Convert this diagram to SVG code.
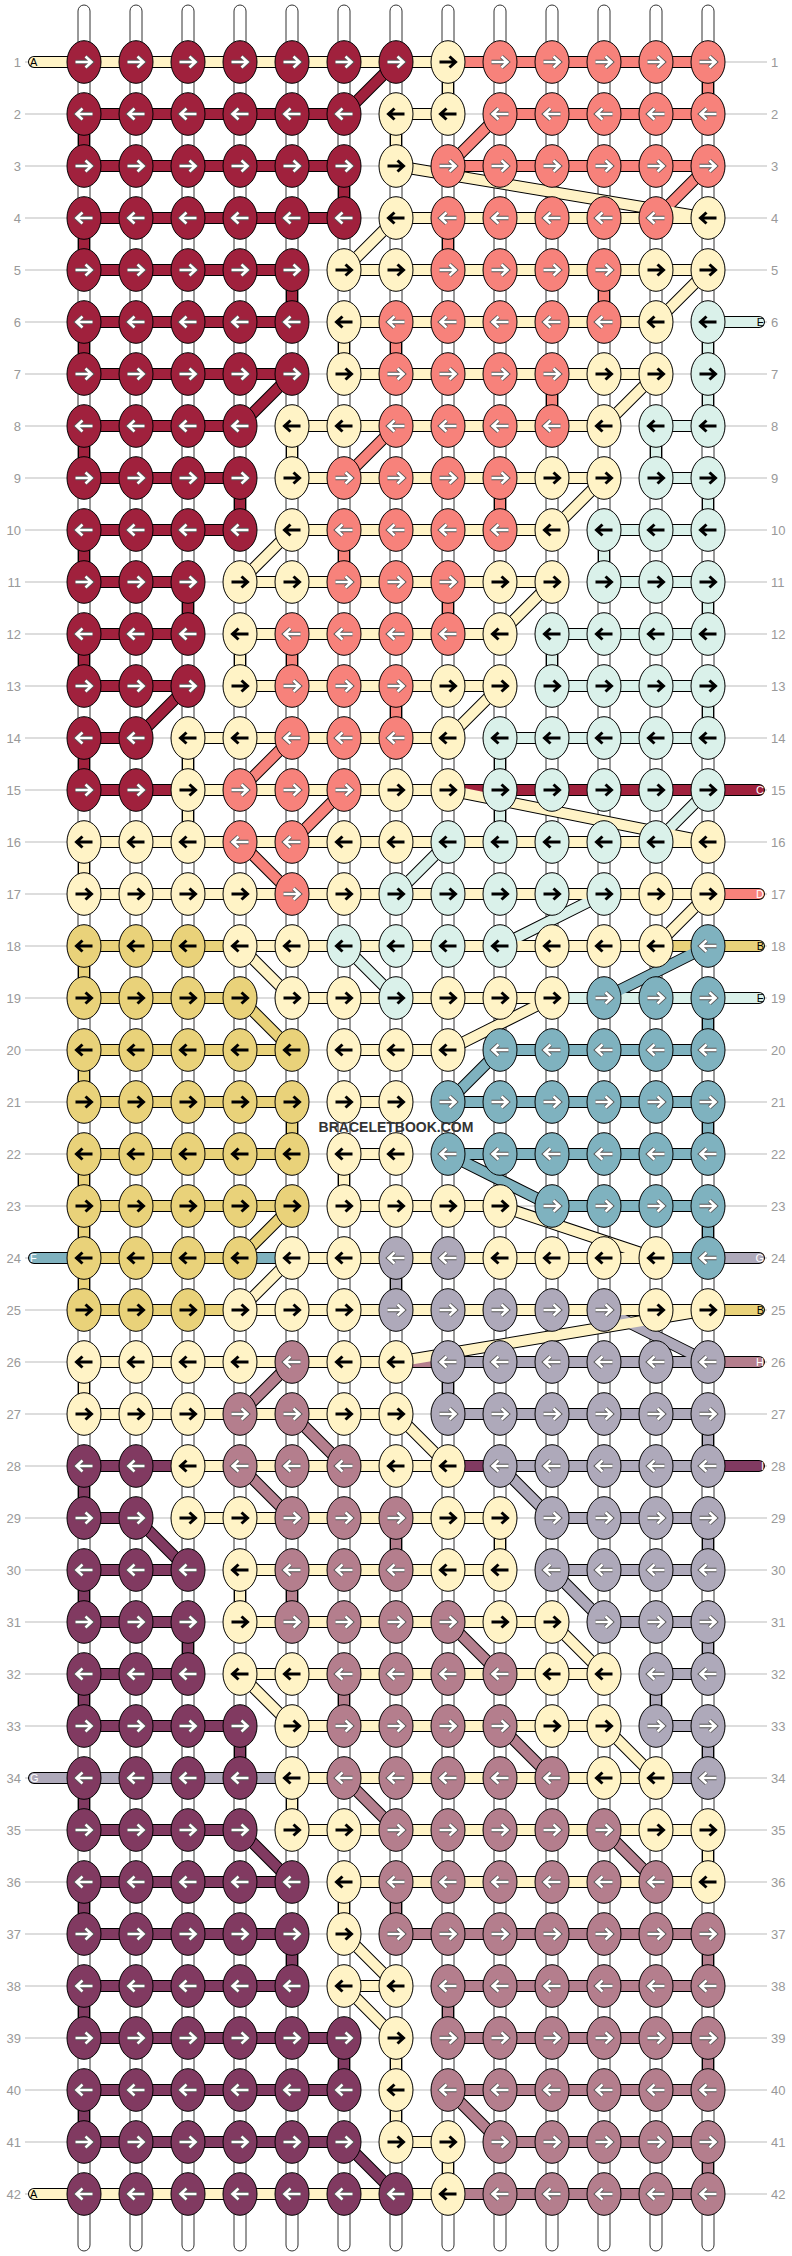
<svg xmlns="http://www.w3.org/2000/svg" width="792" height="2256" viewBox="0 0 792 2256">
<style>
text{font-family:"Liberation Sans",Arial,sans-serif}
.num{font-size:13px;fill:#999}
.lab{font-size:11px}
.o{fill:none;stroke:#000;stroke-width:12;stroke-linecap:round}
.f{fill:none;stroke-width:10;stroke-linecap:round}
.awo{fill:none;stroke:#555;stroke-width:4.4}
.aw{fill:none;stroke:#fff;stroke-width:2.6}
.ab{fill:none;stroke:#000;stroke-width:3}
.warp{fill:#fff;stroke:#333;stroke-width:1}
</style>
<defs>
<ellipse id="e" rx="17" ry="21.3" stroke="#000" stroke-width="1"/>
<path id="ar" d="M-8.5 0H6.5M1.5-5.5L7.5 0L1.5 5.5"/>
<path id="al" d="M8.5 0H-6.5M-1.5-5.5L-7.5 0L-1.5 5.5"/>
<g id="wr"><use href="#ar" class="awo"/><use href="#ar" class="aw"/></g>
<g id="wl"><use href="#al" class="awo"/><use href="#al" class="aw"/></g>
<use id="br" href="#ar" class="ab"/>
<use id="bl" href="#al" class="ab"/>
<g id="Rr"><use href="#e" fill="#A0213D"/><use href="#wr"/></g>
<g id="Rl"><use href="#e" fill="#A0213D"/><use href="#wl"/></g>
<g id="Sr"><use href="#e" fill="#F7827B"/><use href="#wr"/></g>
<g id="Sl"><use href="#e" fill="#F7827B"/><use href="#wl"/></g>
<g id="Tr"><use href="#e" fill="#7FB2BF"/><use href="#wr"/></g>
<g id="Tl"><use href="#e" fill="#7FB2BF"/><use href="#wl"/></g>
<g id="Gr"><use href="#e" fill="#AEA9BA"/><use href="#wr"/></g>
<g id="Gl"><use href="#e" fill="#AEA9BA"/><use href="#wl"/></g>
<g id="Pr"><use href="#e" fill="#B47E8D"/><use href="#wr"/></g>
<g id="Pl"><use href="#e" fill="#B47E8D"/><use href="#wl"/></g>
<g id="Ur"><use href="#e" fill="#813A61"/><use href="#wr"/></g>
<g id="Ul"><use href="#e" fill="#813A61"/><use href="#wl"/></g>
<g id="Cr"><use href="#e" fill="#FFF3C6"/><use href="#br"/></g>
<g id="Cl"><use href="#e" fill="#FFF3C6"/><use href="#bl"/></g>
<g id="Mr"><use href="#e" fill="#DAF1EA"/><use href="#br"/></g>
<g id="Ml"><use href="#e" fill="#DAF1EA"/><use href="#bl"/></g>
<g id="Yr"><use href="#e" fill="#E9D27A"/><use href="#br"/></g>
<g id="Yl"><use href="#e" fill="#E9D27A"/><use href="#bl"/></g>
<path id="pR" d="M84 114H344M84 166H344M84 218H344M84 270H292M84 322H292M84 374H292M84 426H240M84 478H240M84 530H240M84 582H188M84 634H188M84 686H188M84 738H136M84 790H188M448 790H759M84 114V166M344 166V218M84 218V270M292 270V322M84 322V374M84 426V478M240 478V530M84 530V582M188 582V634M84 634V686M84 738V790M396 62L344 114M292 374L240 426M188 686L136 738"/>
<path id="pS" d="M448 62H708M500 114H708M448 166H708M708 894H759M708 62V114M448 218V270M604 270V322M396 322V374M552 374V426M500 478V530M344 530V582M448 582V634M292 634V686M396 686V738M500 114L448 166M708 166L656 218M396 426L344 478M292 738L240 790M344 790L292 842M240 842L292 894"/>
<path id="pM" d="M708 322H759M656 426H708M656 478H708M604 530H708M604 582H708M552 634H708M552 686H708M500 738H708M552 998H759M708 322V426M656 426V478M708 478V530M604 530V582M708 582V634M552 634V686M708 686V738M500 738V842M708 790L656 842M448 842L396 894M604 894L500 946M344 946L396 998"/>
<path id="pY" d="M84 946H240M656 946H759M84 998H240M84 1050H292M84 1102H292M84 1154H292M84 1206H292M84 1258H240M84 1310H240M708 1310H759M84 946V998M84 1050V1102M292 1102V1154M84 1154V1310M240 998L292 1050M292 1206L240 1258"/>
<path id="pT" d="M500 1050H708M448 1102H708M448 1154H708M552 1206H708M34 1258H84M240 1258H292M656 1258H708M708 998V1050M708 1102V1154M708 1206V1258M708 946L604 998M500 1050L448 1102M448 1154L552 1206"/>
<path id="pG" d="M708 1258H759M448 1362H708M448 1414H708M500 1466H708M552 1518H708M552 1570H708M604 1622H708M656 1674H708M656 1726H708M34 1778H292M656 1778H708M396 1258V1310M448 1362V1414M708 1414V1466M708 1518V1570M708 1622V1674M656 1674V1726M708 1726V1778M604 1310L708 1362M500 1466L552 1518M552 1570L604 1622"/>
<path id="pP" d="M396 1362H448M708 1362H759M396 1934H708M448 1986H708M448 2038H708M448 2090H708M500 2142H708M448 2194H708M396 1518V1570M292 1570V1622M344 1674V1726M396 1882V1934M708 1934V1986M448 1986V2038M708 2038V2090M708 2142V2194M292 1362L240 1414M292 1414L344 1466M240 1466L292 1518M448 1622L500 1674M500 1726L552 1778M344 1778L396 1830M604 1830L656 1882M448 2090L500 2142"/>
<path id="pU" d="M84 1466H188M448 1466H500M708 1466H759M84 1518H136M84 1570H188M84 1622H188M84 1674H188M84 1726H240M84 1830H240M84 1882H292M84 1934H292M84 1986H292M84 2038H344M84 2090H344M84 2142H344M84 1466V1518M84 1570V1622M188 1622V1674M84 1674V1726M240 1726V1778M84 1778V1830M84 1882V1934M292 1934V1986M84 1986V2038M344 2038V2090M84 2090V2142M136 1518L188 1570M240 1830L292 1882M344 2142L396 2194"/>
<path id="pC" d="M34 62H448M396 114H448M396 218H708M344 270H708M344 322H656M344 374H656M292 426H604M292 478H604M292 530H552M240 582H552M240 634H500M240 686H500M188 738H448M188 790H448M84 842H708M84 894H708M240 946H656M292 998H552M344 1050H448M344 1102H396M344 1154H396M344 1206H500M292 1258H656M240 1310H708M84 1362H396M84 1414H396M188 1466H448M188 1518H500M240 1570H500M240 1622H552M240 1674H604M292 1726H604M292 1778H656M292 1830H708M344 1882H708M344 1986H396M396 2142H448M34 2194H448M448 62V114M396 114V166M344 322V374M292 426V478M240 634V686M188 738V842M84 842V894M344 1154V1206M84 1362V1414M500 1518V1570M240 1570V1622M292 1778V1830M708 1830V1882M344 1882V1934M396 2038V2142M448 2142V2194M396 166L708 218M396 218L344 270M708 270L656 322M656 374L604 426M604 478L552 530M292 530L240 582M552 582L500 634M500 686L448 738M448 790L708 842M708 894L656 946M240 946L292 998M552 998L448 1050M500 1206L656 1258M292 1258L240 1310M708 1310L396 1362M396 1414L448 1466M552 1622L604 1674M240 1674L292 1726M604 1726L656 1778M344 1934L396 1986M344 1986L396 2038"/>
</defs>
<rect width="792" height="2256" fill="#fff"/>
<g id="warps">
<rect class="warp" x="78" y="5" width="12" height="2246" rx="6"/>
<rect class="warp" x="130" y="5" width="12" height="2246" rx="6"/>
<rect class="warp" x="182" y="5" width="12" height="2246" rx="6"/>
<rect class="warp" x="234" y="5" width="12" height="2246" rx="6"/>
<rect class="warp" x="286" y="5" width="12" height="2246" rx="6"/>
<rect class="warp" x="338" y="5" width="12" height="2246" rx="6"/>
<rect class="warp" x="390" y="5" width="12" height="2246" rx="6"/>
<rect class="warp" x="442" y="5" width="12" height="2246" rx="6"/>
<rect class="warp" x="494" y="5" width="12" height="2246" rx="6"/>
<rect class="warp" x="546" y="5" width="12" height="2246" rx="6"/>
<rect class="warp" x="598" y="5" width="12" height="2246" rx="6"/>
<rect class="warp" x="650" y="5" width="12" height="2246" rx="6"/>
<rect class="warp" x="702" y="5" width="12" height="2246" rx="6"/>
</g>
<path id="guides" fill="none" stroke="#bbb" stroke-width="1" d="M25 62H767M25 114H767M25 166H767M25 218H767M25 270H767M25 322H767M25 374H767M25 426H767M25 478H767M25 530H767M25 582H767M25 634H767M25 686H767M25 738H767M25 790H767M25 842H767M25 894H767M25 946H767M25 998H767M25 1050H767M25 1102H767M25 1154H767M25 1206H767M25 1258H767M25 1310H767M25 1362H767M25 1414H767M25 1466H767M25 1518H767M25 1570H767M25 1622H767M25 1674H767M25 1726H767M25 1778H767M25 1830H767M25 1882H767M25 1934H767M25 1986H767M25 2038H767M25 2090H767M25 2142H767M25 2194H767"/>
<g id="connectors">
<use href="#pR" class="o"/><use href="#pS" class="o"/><use href="#pM" class="o"/><use href="#pY" class="o"/><use href="#pT" class="o"/><use href="#pG" class="o"/><use href="#pP" class="o"/><use href="#pU" class="o"/><use href="#pC" class="o"/>
<use href="#pR" class="f" stroke="#A0213D"/><use href="#pS" class="f" stroke="#F7827B"/><use href="#pM" class="f" stroke="#DAF1EA"/><use href="#pY" class="f" stroke="#E9D27A"/><use href="#pT" class="f" stroke="#7FB2BF"/><use href="#pG" class="f" stroke="#AEA9BA"/><use href="#pP" class="f" stroke="#B47E8D"/><use href="#pU" class="f" stroke="#813A61"/><use href="#pC" class="f" stroke="#FFF3C6"/>
</g>
<g id="knots">
<g id="row1" transform="translate(0 62)"><use id="k1-1" href="#Rr" x="84"/><use id="k1-2" href="#Rr" x="136"/><use id="k1-3" href="#Rr" x="188"/><use id="k1-4" href="#Rr" x="240"/><use id="k1-5" href="#Rr" x="292"/><use id="k1-6" href="#Rr" x="344"/><use id="k1-7" href="#Rr" x="396"/><use id="k1-8" href="#Cr" x="448"/><use id="k1-9" href="#Sr" x="500"/><use id="k1-10" href="#Sr" x="552"/><use id="k1-11" href="#Sr" x="604"/><use id="k1-12" href="#Sr" x="656"/><use id="k1-13" href="#Sr" x="708"/></g>
<g id="row2" transform="translate(0 114)"><use id="k2-1" href="#Rl" x="84"/><use id="k2-2" href="#Rl" x="136"/><use id="k2-3" href="#Rl" x="188"/><use id="k2-4" href="#Rl" x="240"/><use id="k2-5" href="#Rl" x="292"/><use id="k2-6" href="#Rl" x="344"/><use id="k2-7" href="#Cl" x="396"/><use id="k2-8" href="#Cl" x="448"/><use id="k2-9" href="#Sl" x="500"/><use id="k2-10" href="#Sl" x="552"/><use id="k2-11" href="#Sl" x="604"/><use id="k2-12" href="#Sl" x="656"/><use id="k2-13" href="#Sl" x="708"/></g>
<g id="row3" transform="translate(0 166)"><use id="k3-1" href="#Rr" x="84"/><use id="k3-2" href="#Rr" x="136"/><use id="k3-3" href="#Rr" x="188"/><use id="k3-4" href="#Rr" x="240"/><use id="k3-5" href="#Rr" x="292"/><use id="k3-6" href="#Rr" x="344"/><use id="k3-7" href="#Cr" x="396"/><use id="k3-8" href="#Sr" x="448"/><use id="k3-9" href="#Sr" x="500"/><use id="k3-10" href="#Sr" x="552"/><use id="k3-11" href="#Sr" x="604"/><use id="k3-12" href="#Sr" x="656"/><use id="k3-13" href="#Sr" x="708"/></g>
<g id="row4" transform="translate(0 218)"><use id="k4-1" href="#Rl" x="84"/><use id="k4-2" href="#Rl" x="136"/><use id="k4-3" href="#Rl" x="188"/><use id="k4-4" href="#Rl" x="240"/><use id="k4-5" href="#Rl" x="292"/><use id="k4-6" href="#Rl" x="344"/><use id="k4-7" href="#Cl" x="396"/><use id="k4-8" href="#Sl" x="448"/><use id="k4-9" href="#Sl" x="500"/><use id="k4-10" href="#Sl" x="552"/><use id="k4-11" href="#Sl" x="604"/><use id="k4-12" href="#Sl" x="656"/><use id="k4-13" href="#Cl" x="708"/></g>
<g id="row5" transform="translate(0 270)"><use id="k5-1" href="#Rr" x="84"/><use id="k5-2" href="#Rr" x="136"/><use id="k5-3" href="#Rr" x="188"/><use id="k5-4" href="#Rr" x="240"/><use id="k5-5" href="#Rr" x="292"/><use id="k5-6" href="#Cr" x="344"/><use id="k5-7" href="#Cr" x="396"/><use id="k5-8" href="#Sr" x="448"/><use id="k5-9" href="#Sr" x="500"/><use id="k5-10" href="#Sr" x="552"/><use id="k5-11" href="#Sr" x="604"/><use id="k5-12" href="#Cr" x="656"/><use id="k5-13" href="#Cr" x="708"/></g>
<g id="row6" transform="translate(0 322)"><use id="k6-1" href="#Rl" x="84"/><use id="k6-2" href="#Rl" x="136"/><use id="k6-3" href="#Rl" x="188"/><use id="k6-4" href="#Rl" x="240"/><use id="k6-5" href="#Rl" x="292"/><use id="k6-6" href="#Cl" x="344"/><use id="k6-7" href="#Sl" x="396"/><use id="k6-8" href="#Sl" x="448"/><use id="k6-9" href="#Sl" x="500"/><use id="k6-10" href="#Sl" x="552"/><use id="k6-11" href="#Sl" x="604"/><use id="k6-12" href="#Cl" x="656"/><use id="k6-13" href="#Ml" x="708"/></g>
<g id="row7" transform="translate(0 374)"><use id="k7-1" href="#Rr" x="84"/><use id="k7-2" href="#Rr" x="136"/><use id="k7-3" href="#Rr" x="188"/><use id="k7-4" href="#Rr" x="240"/><use id="k7-5" href="#Rr" x="292"/><use id="k7-6" href="#Cr" x="344"/><use id="k7-7" href="#Sr" x="396"/><use id="k7-8" href="#Sr" x="448"/><use id="k7-9" href="#Sr" x="500"/><use id="k7-10" href="#Sr" x="552"/><use id="k7-11" href="#Cr" x="604"/><use id="k7-12" href="#Cr" x="656"/><use id="k7-13" href="#Mr" x="708"/></g>
<g id="row8" transform="translate(0 426)"><use id="k8-1" href="#Rl" x="84"/><use id="k8-2" href="#Rl" x="136"/><use id="k8-3" href="#Rl" x="188"/><use id="k8-4" href="#Rl" x="240"/><use id="k8-5" href="#Cl" x="292"/><use id="k8-6" href="#Cl" x="344"/><use id="k8-7" href="#Sl" x="396"/><use id="k8-8" href="#Sl" x="448"/><use id="k8-9" href="#Sl" x="500"/><use id="k8-10" href="#Sl" x="552"/><use id="k8-11" href="#Cl" x="604"/><use id="k8-12" href="#Ml" x="656"/><use id="k8-13" href="#Ml" x="708"/></g>
<g id="row9" transform="translate(0 478)"><use id="k9-1" href="#Rr" x="84"/><use id="k9-2" href="#Rr" x="136"/><use id="k9-3" href="#Rr" x="188"/><use id="k9-4" href="#Rr" x="240"/><use id="k9-5" href="#Cr" x="292"/><use id="k9-6" href="#Sr" x="344"/><use id="k9-7" href="#Sr" x="396"/><use id="k9-8" href="#Sr" x="448"/><use id="k9-9" href="#Sr" x="500"/><use id="k9-10" href="#Cr" x="552"/><use id="k9-11" href="#Cr" x="604"/><use id="k9-12" href="#Mr" x="656"/><use id="k9-13" href="#Mr" x="708"/></g>
<g id="row10" transform="translate(0 530)"><use id="k10-1" href="#Rl" x="84"/><use id="k10-2" href="#Rl" x="136"/><use id="k10-3" href="#Rl" x="188"/><use id="k10-4" href="#Rl" x="240"/><use id="k10-5" href="#Cl" x="292"/><use id="k10-6" href="#Sl" x="344"/><use id="k10-7" href="#Sl" x="396"/><use id="k10-8" href="#Sl" x="448"/><use id="k10-9" href="#Sl" x="500"/><use id="k10-10" href="#Cl" x="552"/><use id="k10-11" href="#Ml" x="604"/><use id="k10-12" href="#Ml" x="656"/><use id="k10-13" href="#Ml" x="708"/></g>
<g id="row11" transform="translate(0 582)"><use id="k11-1" href="#Rr" x="84"/><use id="k11-2" href="#Rr" x="136"/><use id="k11-3" href="#Rr" x="188"/><use id="k11-4" href="#Cr" x="240"/><use id="k11-5" href="#Cr" x="292"/><use id="k11-6" href="#Sr" x="344"/><use id="k11-7" href="#Sr" x="396"/><use id="k11-8" href="#Sr" x="448"/><use id="k11-9" href="#Cr" x="500"/><use id="k11-10" href="#Cr" x="552"/><use id="k11-11" href="#Mr" x="604"/><use id="k11-12" href="#Mr" x="656"/><use id="k11-13" href="#Mr" x="708"/></g>
<g id="row12" transform="translate(0 634)"><use id="k12-1" href="#Rl" x="84"/><use id="k12-2" href="#Rl" x="136"/><use id="k12-3" href="#Rl" x="188"/><use id="k12-4" href="#Cl" x="240"/><use id="k12-5" href="#Sl" x="292"/><use id="k12-6" href="#Sl" x="344"/><use id="k12-7" href="#Sl" x="396"/><use id="k12-8" href="#Sl" x="448"/><use id="k12-9" href="#Cl" x="500"/><use id="k12-10" href="#Ml" x="552"/><use id="k12-11" href="#Ml" x="604"/><use id="k12-12" href="#Ml" x="656"/><use id="k12-13" href="#Ml" x="708"/></g>
<g id="row13" transform="translate(0 686)"><use id="k13-1" href="#Rr" x="84"/><use id="k13-2" href="#Rr" x="136"/><use id="k13-3" href="#Rr" x="188"/><use id="k13-4" href="#Cr" x="240"/><use id="k13-5" href="#Sr" x="292"/><use id="k13-6" href="#Sr" x="344"/><use id="k13-7" href="#Sr" x="396"/><use id="k13-8" href="#Cr" x="448"/><use id="k13-9" href="#Cr" x="500"/><use id="k13-10" href="#Mr" x="552"/><use id="k13-11" href="#Mr" x="604"/><use id="k13-12" href="#Mr" x="656"/><use id="k13-13" href="#Mr" x="708"/></g>
<g id="row14" transform="translate(0 738)"><use id="k14-1" href="#Rl" x="84"/><use id="k14-2" href="#Rl" x="136"/><use id="k14-3" href="#Cl" x="188"/><use id="k14-4" href="#Cl" x="240"/><use id="k14-5" href="#Sl" x="292"/><use id="k14-6" href="#Sl" x="344"/><use id="k14-7" href="#Sl" x="396"/><use id="k14-8" href="#Cl" x="448"/><use id="k14-9" href="#Ml" x="500"/><use id="k14-10" href="#Ml" x="552"/><use id="k14-11" href="#Ml" x="604"/><use id="k14-12" href="#Ml" x="656"/><use id="k14-13" href="#Ml" x="708"/></g>
<g id="row15" transform="translate(0 790)"><use id="k15-1" href="#Rr" x="84"/><use id="k15-2" href="#Rr" x="136"/><use id="k15-3" href="#Cr" x="188"/><use id="k15-4" href="#Sr" x="240"/><use id="k15-5" href="#Sr" x="292"/><use id="k15-6" href="#Sr" x="344"/><use id="k15-7" href="#Cr" x="396"/><use id="k15-8" href="#Cr" x="448"/><use id="k15-9" href="#Mr" x="500"/><use id="k15-10" href="#Mr" x="552"/><use id="k15-11" href="#Mr" x="604"/><use id="k15-12" href="#Mr" x="656"/><use id="k15-13" href="#Mr" x="708"/></g>
<g id="row16" transform="translate(0 842)"><use id="k16-1" href="#Cl" x="84"/><use id="k16-2" href="#Cl" x="136"/><use id="k16-3" href="#Cl" x="188"/><use id="k16-4" href="#Sl" x="240"/><use id="k16-5" href="#Sl" x="292"/><use id="k16-6" href="#Cl" x="344"/><use id="k16-7" href="#Cl" x="396"/><use id="k16-8" href="#Ml" x="448"/><use id="k16-9" href="#Ml" x="500"/><use id="k16-10" href="#Ml" x="552"/><use id="k16-11" href="#Ml" x="604"/><use id="k16-12" href="#Ml" x="656"/><use id="k16-13" href="#Cl" x="708"/></g>
<g id="row17" transform="translate(0 894)"><use id="k17-1" href="#Cr" x="84"/><use id="k17-2" href="#Cr" x="136"/><use id="k17-3" href="#Cr" x="188"/><use id="k17-4" href="#Cr" x="240"/><use id="k17-5" href="#Sr" x="292"/><use id="k17-6" href="#Cr" x="344"/><use id="k17-7" href="#Mr" x="396"/><use id="k17-8" href="#Mr" x="448"/><use id="k17-9" href="#Mr" x="500"/><use id="k17-10" href="#Mr" x="552"/><use id="k17-11" href="#Mr" x="604"/><use id="k17-12" href="#Cr" x="656"/><use id="k17-13" href="#Cr" x="708"/></g>
<g id="row18" transform="translate(0 946)"><use id="k18-1" href="#Yl" x="84"/><use id="k18-2" href="#Yl" x="136"/><use id="k18-3" href="#Yl" x="188"/><use id="k18-4" href="#Cl" x="240"/><use id="k18-5" href="#Cl" x="292"/><use id="k18-6" href="#Ml" x="344"/><use id="k18-7" href="#Ml" x="396"/><use id="k18-8" href="#Ml" x="448"/><use id="k18-9" href="#Ml" x="500"/><use id="k18-10" href="#Cl" x="552"/><use id="k18-11" href="#Cl" x="604"/><use id="k18-12" href="#Cl" x="656"/><use id="k18-13" href="#Tl" x="708"/></g>
<g id="row19" transform="translate(0 998)"><use id="k19-1" href="#Yr" x="84"/><use id="k19-2" href="#Yr" x="136"/><use id="k19-3" href="#Yr" x="188"/><use id="k19-4" href="#Yr" x="240"/><use id="k19-5" href="#Cr" x="292"/><use id="k19-6" href="#Cr" x="344"/><use id="k19-7" href="#Mr" x="396"/><use id="k19-8" href="#Cr" x="448"/><use id="k19-9" href="#Cr" x="500"/><use id="k19-10" href="#Cr" x="552"/><use id="k19-11" href="#Tr" x="604"/><use id="k19-12" href="#Tr" x="656"/><use id="k19-13" href="#Tr" x="708"/></g>
<g id="row20" transform="translate(0 1050)"><use id="k20-1" href="#Yl" x="84"/><use id="k20-2" href="#Yl" x="136"/><use id="k20-3" href="#Yl" x="188"/><use id="k20-4" href="#Yl" x="240"/><use id="k20-5" href="#Yl" x="292"/><use id="k20-6" href="#Cl" x="344"/><use id="k20-7" href="#Cl" x="396"/><use id="k20-8" href="#Cl" x="448"/><use id="k20-9" href="#Tl" x="500"/><use id="k20-10" href="#Tl" x="552"/><use id="k20-11" href="#Tl" x="604"/><use id="k20-12" href="#Tl" x="656"/><use id="k20-13" href="#Tl" x="708"/></g>
<g id="row21" transform="translate(0 1102)"><use id="k21-1" href="#Yr" x="84"/><use id="k21-2" href="#Yr" x="136"/><use id="k21-3" href="#Yr" x="188"/><use id="k21-4" href="#Yr" x="240"/><use id="k21-5" href="#Yr" x="292"/><use id="k21-6" href="#Cr" x="344"/><use id="k21-7" href="#Cr" x="396"/><use id="k21-8" href="#Tr" x="448"/><use id="k21-9" href="#Tr" x="500"/><use id="k21-10" href="#Tr" x="552"/><use id="k21-11" href="#Tr" x="604"/><use id="k21-12" href="#Tr" x="656"/><use id="k21-13" href="#Tr" x="708"/></g>
<g id="row22" transform="translate(0 1154)"><use id="k22-1" href="#Yl" x="84"/><use id="k22-2" href="#Yl" x="136"/><use id="k22-3" href="#Yl" x="188"/><use id="k22-4" href="#Yl" x="240"/><use id="k22-5" href="#Yl" x="292"/><use id="k22-6" href="#Cl" x="344"/><use id="k22-7" href="#Cl" x="396"/><use id="k22-8" href="#Tl" x="448"/><use id="k22-9" href="#Tl" x="500"/><use id="k22-10" href="#Tl" x="552"/><use id="k22-11" href="#Tl" x="604"/><use id="k22-12" href="#Tl" x="656"/><use id="k22-13" href="#Tl" x="708"/></g>
<g id="row23" transform="translate(0 1206)"><use id="k23-1" href="#Yr" x="84"/><use id="k23-2" href="#Yr" x="136"/><use id="k23-3" href="#Yr" x="188"/><use id="k23-4" href="#Yr" x="240"/><use id="k23-5" href="#Yr" x="292"/><use id="k23-6" href="#Cr" x="344"/><use id="k23-7" href="#Cr" x="396"/><use id="k23-8" href="#Cr" x="448"/><use id="k23-9" href="#Cr" x="500"/><use id="k23-10" href="#Tr" x="552"/><use id="k23-11" href="#Tr" x="604"/><use id="k23-12" href="#Tr" x="656"/><use id="k23-13" href="#Tr" x="708"/></g>
<g id="row24" transform="translate(0 1258)"><use id="k24-1" href="#Yl" x="84"/><use id="k24-2" href="#Yl" x="136"/><use id="k24-3" href="#Yl" x="188"/><use id="k24-4" href="#Yl" x="240"/><use id="k24-5" href="#Cl" x="292"/><use id="k24-6" href="#Cl" x="344"/><use id="k24-7" href="#Gl" x="396"/><use id="k24-8" href="#Gl" x="448"/><use id="k24-9" href="#Cl" x="500"/><use id="k24-10" href="#Cl" x="552"/><use id="k24-11" href="#Cl" x="604"/><use id="k24-12" href="#Cl" x="656"/><use id="k24-13" href="#Tl" x="708"/></g>
<g id="row25" transform="translate(0 1310)"><use id="k25-1" href="#Yr" x="84"/><use id="k25-2" href="#Yr" x="136"/><use id="k25-3" href="#Yr" x="188"/><use id="k25-4" href="#Cr" x="240"/><use id="k25-5" href="#Cr" x="292"/><use id="k25-6" href="#Cr" x="344"/><use id="k25-7" href="#Gr" x="396"/><use id="k25-8" href="#Gr" x="448"/><use id="k25-9" href="#Gr" x="500"/><use id="k25-10" href="#Gr" x="552"/><use id="k25-11" href="#Gr" x="604"/><use id="k25-12" href="#Cr" x="656"/><use id="k25-13" href="#Cr" x="708"/></g>
<g id="row26" transform="translate(0 1362)"><use id="k26-1" href="#Cl" x="84"/><use id="k26-2" href="#Cl" x="136"/><use id="k26-3" href="#Cl" x="188"/><use id="k26-4" href="#Cl" x="240"/><use id="k26-5" href="#Pl" x="292"/><use id="k26-6" href="#Cl" x="344"/><use id="k26-7" href="#Cl" x="396"/><use id="k26-8" href="#Gl" x="448"/><use id="k26-9" href="#Gl" x="500"/><use id="k26-10" href="#Gl" x="552"/><use id="k26-11" href="#Gl" x="604"/><use id="k26-12" href="#Gl" x="656"/><use id="k26-13" href="#Gl" x="708"/></g>
<g id="row27" transform="translate(0 1414)"><use id="k27-1" href="#Cr" x="84"/><use id="k27-2" href="#Cr" x="136"/><use id="k27-3" href="#Cr" x="188"/><use id="k27-4" href="#Pr" x="240"/><use id="k27-5" href="#Pr" x="292"/><use id="k27-6" href="#Cr" x="344"/><use id="k27-7" href="#Cr" x="396"/><use id="k27-8" href="#Gr" x="448"/><use id="k27-9" href="#Gr" x="500"/><use id="k27-10" href="#Gr" x="552"/><use id="k27-11" href="#Gr" x="604"/><use id="k27-12" href="#Gr" x="656"/><use id="k27-13" href="#Gr" x="708"/></g>
<g id="row28" transform="translate(0 1466)"><use id="k28-1" href="#Ul" x="84"/><use id="k28-2" href="#Ul" x="136"/><use id="k28-3" href="#Cl" x="188"/><use id="k28-4" href="#Pl" x="240"/><use id="k28-5" href="#Pl" x="292"/><use id="k28-6" href="#Pl" x="344"/><use id="k28-7" href="#Cl" x="396"/><use id="k28-8" href="#Cl" x="448"/><use id="k28-9" href="#Gl" x="500"/><use id="k28-10" href="#Gl" x="552"/><use id="k28-11" href="#Gl" x="604"/><use id="k28-12" href="#Gl" x="656"/><use id="k28-13" href="#Gl" x="708"/></g>
<g id="row29" transform="translate(0 1518)"><use id="k29-1" href="#Ur" x="84"/><use id="k29-2" href="#Ur" x="136"/><use id="k29-3" href="#Cr" x="188"/><use id="k29-4" href="#Cr" x="240"/><use id="k29-5" href="#Pr" x="292"/><use id="k29-6" href="#Pr" x="344"/><use id="k29-7" href="#Pr" x="396"/><use id="k29-8" href="#Cr" x="448"/><use id="k29-9" href="#Cr" x="500"/><use id="k29-10" href="#Gr" x="552"/><use id="k29-11" href="#Gr" x="604"/><use id="k29-12" href="#Gr" x="656"/><use id="k29-13" href="#Gr" x="708"/></g>
<g id="row30" transform="translate(0 1570)"><use id="k30-1" href="#Ul" x="84"/><use id="k30-2" href="#Ul" x="136"/><use id="k30-3" href="#Ul" x="188"/><use id="k30-4" href="#Cl" x="240"/><use id="k30-5" href="#Pl" x="292"/><use id="k30-6" href="#Pl" x="344"/><use id="k30-7" href="#Pl" x="396"/><use id="k30-8" href="#Cl" x="448"/><use id="k30-9" href="#Cl" x="500"/><use id="k30-10" href="#Gl" x="552"/><use id="k30-11" href="#Gl" x="604"/><use id="k30-12" href="#Gl" x="656"/><use id="k30-13" href="#Gl" x="708"/></g>
<g id="row31" transform="translate(0 1622)"><use id="k31-1" href="#Ur" x="84"/><use id="k31-2" href="#Ur" x="136"/><use id="k31-3" href="#Ur" x="188"/><use id="k31-4" href="#Cr" x="240"/><use id="k31-5" href="#Pr" x="292"/><use id="k31-6" href="#Pr" x="344"/><use id="k31-7" href="#Pr" x="396"/><use id="k31-8" href="#Pr" x="448"/><use id="k31-9" href="#Cr" x="500"/><use id="k31-10" href="#Cr" x="552"/><use id="k31-11" href="#Gr" x="604"/><use id="k31-12" href="#Gr" x="656"/><use id="k31-13" href="#Gr" x="708"/></g>
<g id="row32" transform="translate(0 1674)"><use id="k32-1" href="#Ul" x="84"/><use id="k32-2" href="#Ul" x="136"/><use id="k32-3" href="#Ul" x="188"/><use id="k32-4" href="#Cl" x="240"/><use id="k32-5" href="#Cl" x="292"/><use id="k32-6" href="#Pl" x="344"/><use id="k32-7" href="#Pl" x="396"/><use id="k32-8" href="#Pl" x="448"/><use id="k32-9" href="#Pl" x="500"/><use id="k32-10" href="#Cl" x="552"/><use id="k32-11" href="#Cl" x="604"/><use id="k32-12" href="#Gl" x="656"/><use id="k32-13" href="#Gl" x="708"/></g>
<g id="row33" transform="translate(0 1726)"><use id="k33-1" href="#Ur" x="84"/><use id="k33-2" href="#Ur" x="136"/><use id="k33-3" href="#Ur" x="188"/><use id="k33-4" href="#Ur" x="240"/><use id="k33-5" href="#Cr" x="292"/><use id="k33-6" href="#Pr" x="344"/><use id="k33-7" href="#Pr" x="396"/><use id="k33-8" href="#Pr" x="448"/><use id="k33-9" href="#Pr" x="500"/><use id="k33-10" href="#Cr" x="552"/><use id="k33-11" href="#Cr" x="604"/><use id="k33-12" href="#Gr" x="656"/><use id="k33-13" href="#Gr" x="708"/></g>
<g id="row34" transform="translate(0 1778)"><use id="k34-1" href="#Ul" x="84"/><use id="k34-2" href="#Ul" x="136"/><use id="k34-3" href="#Ul" x="188"/><use id="k34-4" href="#Ul" x="240"/><use id="k34-5" href="#Cl" x="292"/><use id="k34-6" href="#Pl" x="344"/><use id="k34-7" href="#Pl" x="396"/><use id="k34-8" href="#Pl" x="448"/><use id="k34-9" href="#Pl" x="500"/><use id="k34-10" href="#Pl" x="552"/><use id="k34-11" href="#Cl" x="604"/><use id="k34-12" href="#Cl" x="656"/><use id="k34-13" href="#Gl" x="708"/></g>
<g id="row35" transform="translate(0 1830)"><use id="k35-1" href="#Ur" x="84"/><use id="k35-2" href="#Ur" x="136"/><use id="k35-3" href="#Ur" x="188"/><use id="k35-4" href="#Ur" x="240"/><use id="k35-5" href="#Cr" x="292"/><use id="k35-6" href="#Cr" x="344"/><use id="k35-7" href="#Pr" x="396"/><use id="k35-8" href="#Pr" x="448"/><use id="k35-9" href="#Pr" x="500"/><use id="k35-10" href="#Pr" x="552"/><use id="k35-11" href="#Pr" x="604"/><use id="k35-12" href="#Cr" x="656"/><use id="k35-13" href="#Cr" x="708"/></g>
<g id="row36" transform="translate(0 1882)"><use id="k36-1" href="#Ul" x="84"/><use id="k36-2" href="#Ul" x="136"/><use id="k36-3" href="#Ul" x="188"/><use id="k36-4" href="#Ul" x="240"/><use id="k36-5" href="#Ul" x="292"/><use id="k36-6" href="#Cl" x="344"/><use id="k36-7" href="#Pl" x="396"/><use id="k36-8" href="#Pl" x="448"/><use id="k36-9" href="#Pl" x="500"/><use id="k36-10" href="#Pl" x="552"/><use id="k36-11" href="#Pl" x="604"/><use id="k36-12" href="#Pl" x="656"/><use id="k36-13" href="#Cl" x="708"/></g>
<g id="row37" transform="translate(0 1934)"><use id="k37-1" href="#Ur" x="84"/><use id="k37-2" href="#Ur" x="136"/><use id="k37-3" href="#Ur" x="188"/><use id="k37-4" href="#Ur" x="240"/><use id="k37-5" href="#Ur" x="292"/><use id="k37-6" href="#Cr" x="344"/><use id="k37-7" href="#Pr" x="396"/><use id="k37-8" href="#Pr" x="448"/><use id="k37-9" href="#Pr" x="500"/><use id="k37-10" href="#Pr" x="552"/><use id="k37-11" href="#Pr" x="604"/><use id="k37-12" href="#Pr" x="656"/><use id="k37-13" href="#Pr" x="708"/></g>
<g id="row38" transform="translate(0 1986)"><use id="k38-1" href="#Ul" x="84"/><use id="k38-2" href="#Ul" x="136"/><use id="k38-3" href="#Ul" x="188"/><use id="k38-4" href="#Ul" x="240"/><use id="k38-5" href="#Ul" x="292"/><use id="k38-6" href="#Cl" x="344"/><use id="k38-7" href="#Cl" x="396"/><use id="k38-8" href="#Pl" x="448"/><use id="k38-9" href="#Pl" x="500"/><use id="k38-10" href="#Pl" x="552"/><use id="k38-11" href="#Pl" x="604"/><use id="k38-12" href="#Pl" x="656"/><use id="k38-13" href="#Pl" x="708"/></g>
<g id="row39" transform="translate(0 2038)"><use id="k39-1" href="#Ur" x="84"/><use id="k39-2" href="#Ur" x="136"/><use id="k39-3" href="#Ur" x="188"/><use id="k39-4" href="#Ur" x="240"/><use id="k39-5" href="#Ur" x="292"/><use id="k39-6" href="#Ur" x="344"/><use id="k39-7" href="#Cr" x="396"/><use id="k39-8" href="#Pr" x="448"/><use id="k39-9" href="#Pr" x="500"/><use id="k39-10" href="#Pr" x="552"/><use id="k39-11" href="#Pr" x="604"/><use id="k39-12" href="#Pr" x="656"/><use id="k39-13" href="#Pr" x="708"/></g>
<g id="row40" transform="translate(0 2090)"><use id="k40-1" href="#Ul" x="84"/><use id="k40-2" href="#Ul" x="136"/><use id="k40-3" href="#Ul" x="188"/><use id="k40-4" href="#Ul" x="240"/><use id="k40-5" href="#Ul" x="292"/><use id="k40-6" href="#Ul" x="344"/><use id="k40-7" href="#Cl" x="396"/><use id="k40-8" href="#Pl" x="448"/><use id="k40-9" href="#Pl" x="500"/><use id="k40-10" href="#Pl" x="552"/><use id="k40-11" href="#Pl" x="604"/><use id="k40-12" href="#Pl" x="656"/><use id="k40-13" href="#Pl" x="708"/></g>
<g id="row41" transform="translate(0 2142)"><use id="k41-1" href="#Ur" x="84"/><use id="k41-2" href="#Ur" x="136"/><use id="k41-3" href="#Ur" x="188"/><use id="k41-4" href="#Ur" x="240"/><use id="k41-5" href="#Ur" x="292"/><use id="k41-6" href="#Ur" x="344"/><use id="k41-7" href="#Cr" x="396"/><use id="k41-8" href="#Cr" x="448"/><use id="k41-9" href="#Pr" x="500"/><use id="k41-10" href="#Pr" x="552"/><use id="k41-11" href="#Pr" x="604"/><use id="k41-12" href="#Pr" x="656"/><use id="k41-13" href="#Pr" x="708"/></g>
<g id="row42" transform="translate(0 2194)"><use id="k42-1" href="#Ul" x="84"/><use id="k42-2" href="#Ul" x="136"/><use id="k42-3" href="#Ul" x="188"/><use id="k42-4" href="#Ul" x="240"/><use id="k42-5" href="#Ul" x="292"/><use id="k42-6" href="#Ul" x="344"/><use id="k42-7" href="#Ul" x="396"/><use id="k42-8" href="#Cl" x="448"/><use id="k42-9" href="#Pl" x="500"/><use id="k42-10" href="#Pl" x="552"/><use id="k42-11" href="#Pl" x="604"/><use id="k42-12" href="#Pl" x="656"/><use id="k42-13" href="#Pl" x="708"/></g>
</g>
<g id="stringlabels" class="lab">
<text x="30" y="66">A</text>
<text x="30" y="1262" fill="#fff">F</text>
<text x="30" y="1782" fill="#fff">G</text>
<text x="30" y="2198">A</text>
<g text-anchor="end">
<text x="764" y="326">E</text>
<text x="764" y="794" fill="#fff">C</text>
<text x="764" y="898" fill="#fff">D</text>
<text x="764" y="950">B</text>
<text x="764" y="1002">E</text>
<text x="764" y="1262" fill="#fff">G</text>
<text x="764" y="1314">B</text>
<text x="764" y="1366" fill="#fff">H</text>
<text x="764" y="1470" fill="#fff">I</text>
</g>
</g>
<g id="rownums" class="num">
<g text-anchor="end">
<text x="21" y="67">1</text><text x="21" y="119">2</text><text x="21" y="171">3</text><text x="21" y="223">4</text><text x="21" y="275">5</text><text x="21" y="327">6</text><text x="21" y="379">7</text><text x="21" y="431">8</text><text x="21" y="483">9</text><text x="21" y="535">10</text><text x="21" y="587">11</text><text x="21" y="639">12</text><text x="21" y="691">13</text><text x="21" y="743">14</text><text x="21" y="795">15</text><text x="21" y="847">16</text><text x="21" y="899">17</text><text x="21" y="951">18</text><text x="21" y="1003">19</text><text x="21" y="1055">20</text><text x="21" y="1107">21</text><text x="21" y="1159">22</text><text x="21" y="1211">23</text><text x="21" y="1263">24</text><text x="21" y="1315">25</text><text x="21" y="1367">26</text><text x="21" y="1419">27</text><text x="21" y="1471">28</text><text x="21" y="1523">29</text><text x="21" y="1575">30</text><text x="21" y="1627">31</text><text x="21" y="1679">32</text><text x="21" y="1731">33</text><text x="21" y="1783">34</text><text x="21" y="1835">35</text><text x="21" y="1887">36</text><text x="21" y="1939">37</text><text x="21" y="1991">38</text><text x="21" y="2043">39</text><text x="21" y="2095">40</text><text x="21" y="2147">41</text><text x="21" y="2199">42</text>
</g>
<g text-anchor="start">
<text x="771" y="67">1</text><text x="771" y="119">2</text><text x="771" y="171">3</text><text x="771" y="223">4</text><text x="771" y="275">5</text><text x="771" y="327">6</text><text x="771" y="379">7</text><text x="771" y="431">8</text><text x="771" y="483">9</text><text x="771" y="535">10</text><text x="771" y="587">11</text><text x="771" y="639">12</text><text x="771" y="691">13</text><text x="771" y="743">14</text><text x="771" y="795">15</text><text x="771" y="847">16</text><text x="771" y="899">17</text><text x="771" y="951">18</text><text x="771" y="1003">19</text><text x="771" y="1055">20</text><text x="771" y="1107">21</text><text x="771" y="1159">22</text><text x="771" y="1211">23</text><text x="771" y="1263">24</text><text x="771" y="1315">25</text><text x="771" y="1367">26</text><text x="771" y="1419">27</text><text x="771" y="1471">28</text><text x="771" y="1523">29</text><text x="771" y="1575">30</text><text x="771" y="1627">31</text><text x="771" y="1679">32</text><text x="771" y="1731">33</text><text x="771" y="1783">34</text><text x="771" y="1835">35</text><text x="771" y="1887">36</text><text x="771" y="1939">37</text><text x="771" y="1991">38</text><text x="771" y="2043">39</text><text x="771" y="2095">40</text><text x="771" y="2147">41</text><text x="771" y="2199">42</text>
</g>
</g>
<text id="watermark" x="396" y="1132" font-size="14" font-weight="bold" text-anchor="middle" fill="#333">BRACELETBOOK.COM</text>
</svg>
